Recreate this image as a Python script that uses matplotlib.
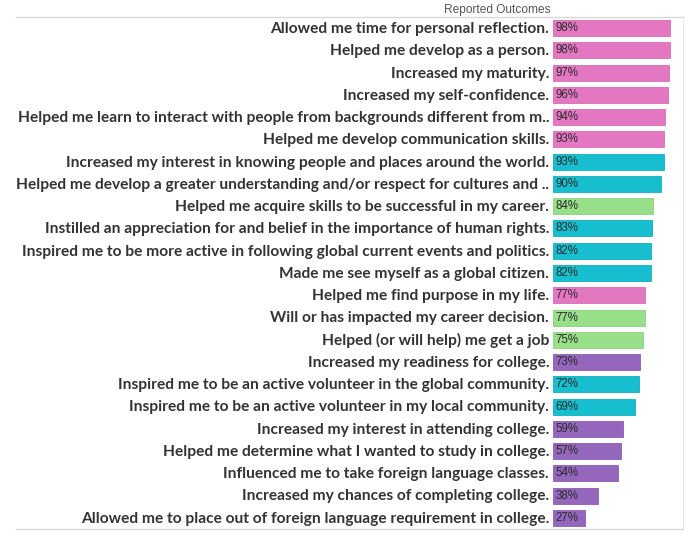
import matplotlib
matplotlib.use("Agg")
import matplotlib.pyplot as plt
from matplotlib.lines import Line2D

categories = [
    "Allowed me time for personal reflection.",
    "Helped me develop as a person.",
    "Increased my maturity.",
    "Increased my self-confidence.",
    "Helped me learn to interact with people from backgrounds different from m..",
    "Helped me develop communication skills.",
    "Increased my interest in knowing people and places around the world.",
    "Helped me develop a greater understanding and/or respect for cultures and ..",
    "Helped me acquire skills to be successful in my career.",
    "Instilled an appreciation for and belief in the importance of human rights.",
    "Inspired me to be more active in following global current events and politics.",
    "Made me see myself as a global citizen.",
    "Helped me find purpose in my life.",
    "Will or has impacted my career decision.",
    "Helped (or will help) me get a job",
    "Increased my readiness for college.",
    "Inspired me to be an active volunteer in the global community.",
    "Inspired me to be an active volunteer in my local community.",
    "Increased my interest in attending college.",
    "Helped me determine what I wanted to study in college.",
    "Influenced me to take foreign language classes.",
    "Increased my chances of completing college.",
    "Allowed me to place out of foreign language requirement in college.",
]
values = [98, 98, 97, 96, 94, 93, 93, 90, 84, 83, 82, 82, 77, 77, 75, 73, 72, 69, 59, 57, 54, 38, 27]
groups = ["personal", "personal", "personal", "personal", "personal", "personal",
          "global", "global", "career", "global", "global", "global",
          "personal", "career", "career", "college", "global", "global",
          "college", "college", "college", "college", "college"]

group_colors = {"personal": "#E377C2", "global": "#17BECF", "career": "#98DF8A", "college": "#9467BD"}
edge_colors = {"personal": "#D66DB5", "global": "#14ADBD", "career": "#8CCF7E", "college": "#8A5DB3"}

fig = plt.figure(figsize=(7.0, 5.46), dpi=100)
W, H = 700, 546
left, right, top, bottom = 553, 683, 17, 529
ax = fig.add_axes([left / W, 1 - bottom / H, (right - left) / W, (bottom - top) / H])

n = len(categories)
ypos = list(range(n))
ax.barh(ypos, values, height=0.72,
        color=[group_colors[g] for g in groups],
        edgecolor=[edge_colors[g] for g in groups], linewidth=0.6)
ax.set_xlim(0, 108.8)
ax.set_ylim(n - 0.5, -0.5)

for i, (v, c) in enumerate(zip(values, categories)):
    ax.text(2.3, i, f"{v}%", ha="left", va="center", fontsize=8.3,
            family="Liberation Sans", color="#2B2B2B")
    ax.text(-3.3, i + 0.04, c, ha="right", va="center", fontsize=11.2, fontweight="bold",
            family="Lato", color="#333333")

ax.set_xticks([])
ax.set_yticks([])
for s in ["left", "top", "bottom"]:
    ax.spines[s].set_visible(False)
ax.spines["right"].set_color("#E6E6E6")
ax.spines["right"].set_linewidth(0.8)

# header lines spanning the full table width
fig.add_artist(Line2D([16 / W, right / W], [1 - top / H, 1 - top / H], color="#D9D9D9", linewidth=1.0))
fig.add_artist(Line2D([16 / W, right / W], [1 - bottom / H, 1 - bottom / H], color="#D9D9D9", linewidth=1.0))

fig.text(497 / W, 1 - 9.5 / H, "Reported Outcomes", ha="center", va="center", fontsize=8.6,
         family="Liberation Sans", color="#555555")

fig.savefig("out.png", dpi=100)
